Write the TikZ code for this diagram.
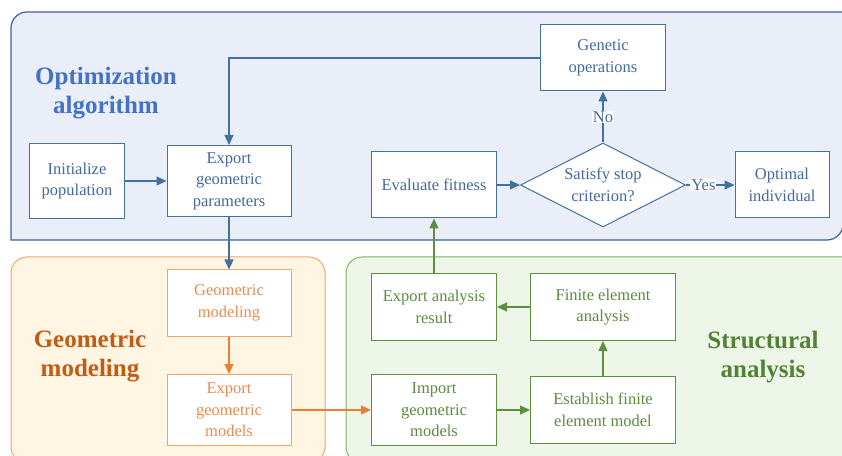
\documentclass[tikz,border=0pt]{standalone}
\usepackage{fontspec}
\setmainfont{Liberation Serif}
\usetikzlibrary{arrows.meta,shapes.geometric}
\definecolor{optline}{HTML}{41719C}
\definecolor{opttext}{HTML}{44699E}
\definecolor{opttitle}{HTML}{4472C4}
\definecolor{optedge}{HTML}{3A62A6}
\definecolor{optfill}{HTML}{E9EEF8}
\definecolor{geoline}{HTML}{F4A46A}
\definecolor{geotext}{HTML}{EF8A4E}
\definecolor{geoarrow}{HTML}{ED7D31}
\definecolor{geotitle}{HTML}{C55A11}
\definecolor{geofill}{HTML}{FEF6E3}
\definecolor{strline}{HTML}{5E8F3E}
\definecolor{strtext}{HTML}{5B8C3F}
\definecolor{strtitle}{HTML}{548235}
\definecolor{stredge}{HTML}{7DB55A}
\definecolor{strfill}{HTML}{EEF6EA}
\tikzset{box/.style={draw,fill=white,line width=1pt,align=center,inner sep=0pt,
  font=\fontsize{16.5}{21.5}\selectfont},
 optbox/.style={box,draw=optline,text=opttext},
 geobox/.style={box,draw=geoline,text=geotext},
 strbox/.style={box,draw=strline,text=strtext},
 flow/.style={-{Triangle[length=10pt,width=9pt]},line width=1.2pt},
 title/.style={font=\fontsize{25}{29}\selectfont\bfseries,align=center},
 tag/.style={fill=white,inner sep=1pt,text=opttext,font=\fontsize{16.5}{21.5}\selectfont}}

\begin{document}
\begin{tikzpicture}[x=1pt,y=1pt]
\useasboundingbox (0,0) rectangle (842,455);
% the three areas
\draw[line width=1.2pt,draw=optedge,fill=optfill] (11,215) -- (11,427)
  arc[start angle=180,end angle=90,radius=16] -- (843,443) -- (843,231)
  arc[start angle=0,end angle=-90,radius=16] -- cycle;
\draw[line width=1pt,draw=geoline,fill=geofill,rounded corners=16] (11,-8) rectangle (325,198);
\draw[line width=1pt,draw=stredge,fill=strfill,rounded corners=16] (346,-8) rectangle (870,198);
\node[title,text=opttitle] (optT) at (106,362) {Optimization\\algorithm};
\node[title,text=geotitle] (geoT) at (90,99) {Geometric\\modeling};
\node[title,text=strtitle] (strT) at (763,98) {Structural\\analysis};
% optimization
\node[optbox,minimum width=95,minimum height=75] (init) at (77,274) {Initialize\\population};
\node[optbox,minimum width=124,minimum height=71] (param) at (229,274) {Export\\geometric\\parameters};
\node[optbox,minimum width=125,minimum height=66] (fitness) at (434,270) {Evaluate fitness};
\node[optbox,shape=diamond,aspect=2,minimum width=165,minimum height=84] (stop) at (603,270) {Satisfy stop\\criterion?};
\node[optbox,minimum width=125,minimum height=66] (genetic) at (603,397) {Genetic\\operations};
\node[optbox,minimum width=94,minimum height=66] (optimal) at (782,270) {Optimal\\individual};
% geometric modeling
\node[geobox,minimum width=124,minimum height=66] (geomod) at (229,152) {Geometric\\modeling};
\node[geobox,minimum width=124,minimum height=71] (expmod) at (229,45) {Export\\geometric\\models};
% structural analysis
\foreach \name/\x/\y/\w/\h/\txt in {expres/434/148/125/67/{Export analysis\\result},
  fea/603/148/145/67/{Finite element\\analysis},
  import/434/45/125/71/{Import\\geometric\\models},
  establish/603/45/145/67/{Establish finite\\element model}} {
 \node[strbox,minimum width=\w,minimum height=\h] (\name) at (\x,\y) {\txt};
}
% connectors
\draw[flow,optline] (init) -- (param);
\draw[flow,optline] (genetic.west) -| (param.north);
\draw[flow,optline] (param) -- (geomod);
\draw[flow,geoarrow] (geomod) -- (expmod);
\draw[flow,geoarrow] (expmod) -- (import);
\draw[flow,strline] (import) -- (establish);
\draw[flow,strline] (establish) -- (fea);
\draw[flow,strline] (fea) -- (expres);
\draw[flow,strline] (expres) -- (fitness);
\draw[flow,optline] (fitness) -- (stop);
\draw[flow,optline] (stop) -- node[tag] {No} (genetic);
\draw[flow,optline] (stop) -- node[tag,pos=0.36] {Yes} (optimal);
\end{tikzpicture}
\end{document}
